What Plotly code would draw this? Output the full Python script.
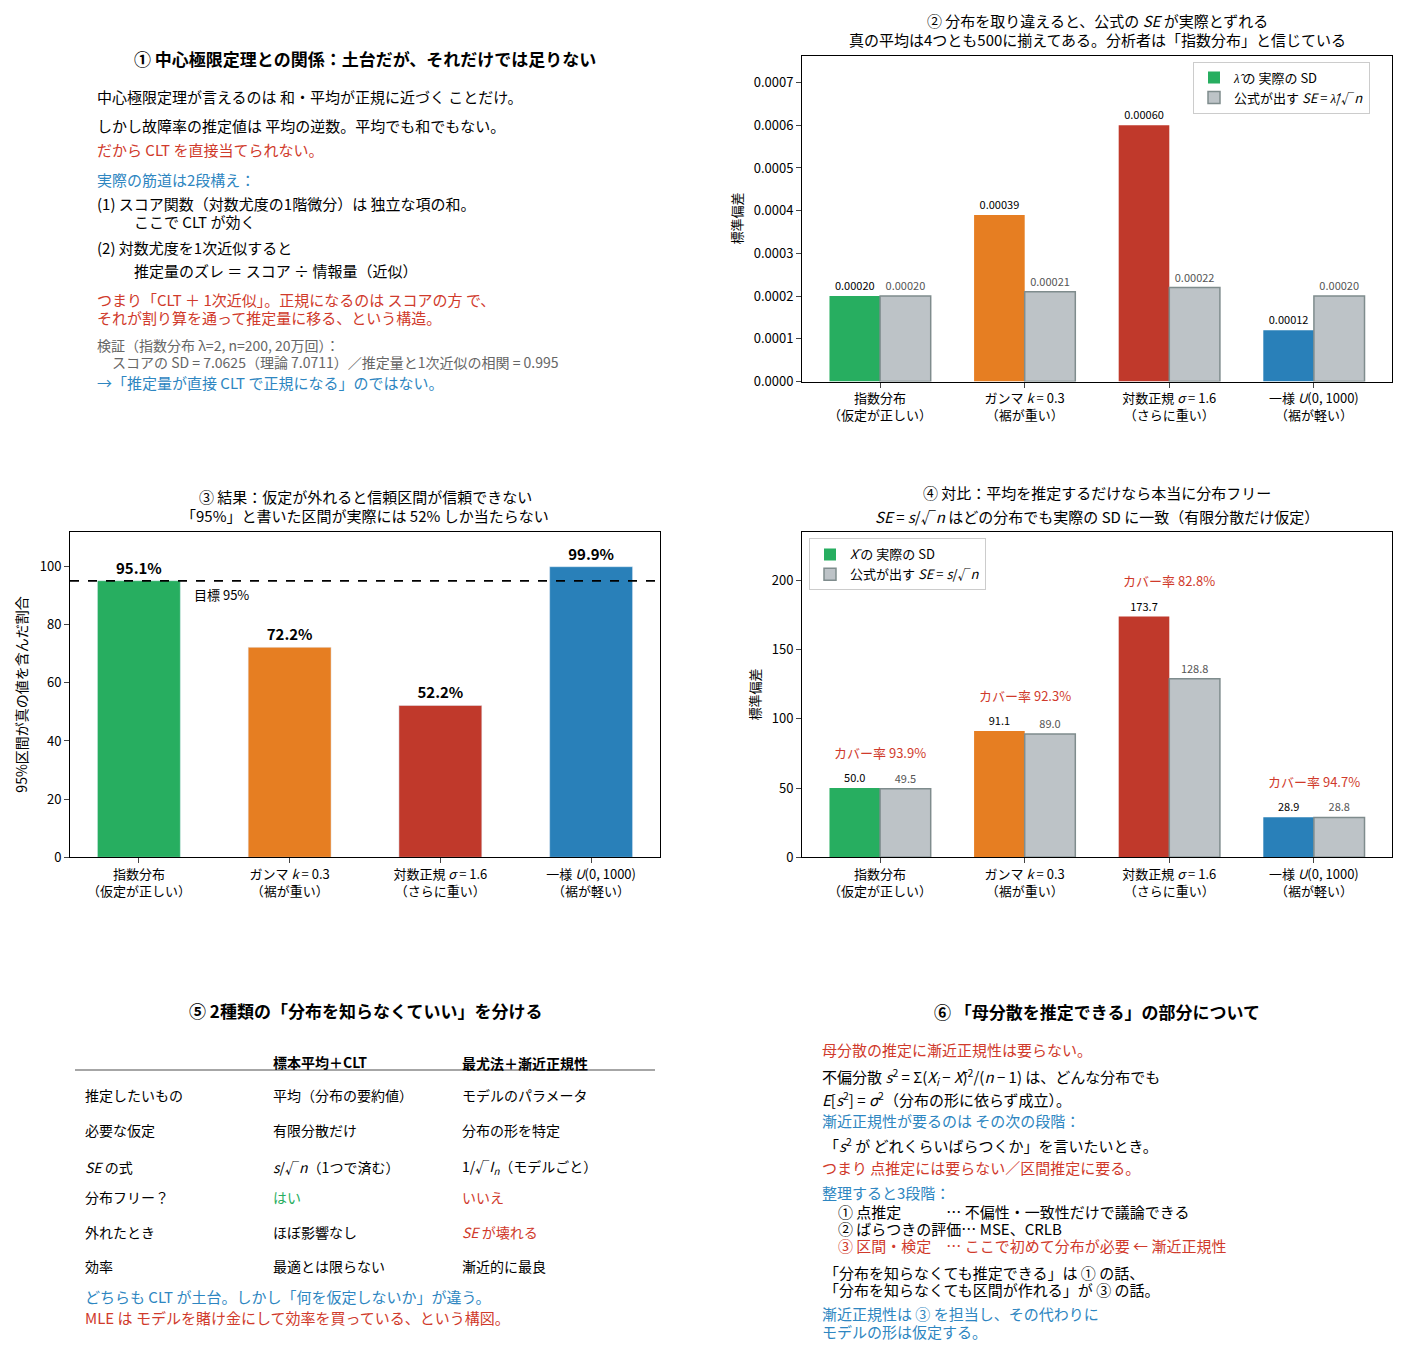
import plotly.graph_objects as go

W, H = 1402, 1360
FONT = "Noto Sans CJK JP"
GREEN, ORANGE, RED, BLUE = "#27ae60", "#e67e22", "#c0392b", "#2980b9"
GREY, EDGE = "#bdc3c7", "#7f8c8d"
TXT_BLUE = "#2e86c1"
TXT_RED = "#d03a2b"

categories = ["指数分布<br>（仮定が正しい）", "ガンマ <i>k</i> = 0.3<br>（裾が重い）",
              "対数正規 <i>σ</i> = 1.6<br>（さらに重い）", "一様 <i>U</i>(0, 1000)<br>（裾が軽い）"]
colors = [GREEN, ORANGE, RED, BLUE]

# panel 2
lam_sd_actual = [0.00020, 0.00039, 0.00060, 0.00012]
lam_se_formula = [0.00020, 0.00021, 0.00022, 0.00020]
# panel 3
coverage_mle = [95.1, 72.2, 52.2, 99.9]
# panel 4
mean_sd_actual = [50.0, 91.1, 173.7, 28.9]
mean_se_formula = [49.5, 89.0, 128.8, 28.8]
coverage_mean = [93.9, 92.3, 82.8, 94.7]

OFF = 8
def px(x): return (x - OFF) / W
def py(y): return 1 - (y - OFF) / H

fig = go.Figure()
xs = [0, 1, 2, 3]

fig.add_trace(go.Bar(x=xs, y=lam_sd_actual, width=0.35, offset=-0.35, marker_color=colors,
                     marker_line_width=0, name="<i>λ̂</i> の 実際の SD", legend="legend",
                     text=[f"{v:.5f}" for v in lam_sd_actual], textposition="outside",
                     textfont=dict(size=11, color="black"), cliponaxis=False,
                     xaxis="x", yaxis="y"))
fig.add_trace(go.Bar(x=xs, y=lam_se_formula, width=0.35, offset=0, marker_color=GREY,
                     marker_line=dict(color=EDGE, width=1.5), name="公式が出す <i>SE</i> = <i>λ̂</i>/√<i>n</i>",
                     legend="legend", text=[f"{v:.5f}" for v in lam_se_formula], textposition="outside",
                     textfont=dict(size=11, color="#555"), cliponaxis=False, xaxis="x", yaxis="y"))
fig.add_trace(go.Bar(x=xs, y=coverage_mle, width=0.55, marker_color=colors, showlegend=False,
                     text=[f"<b>{v:.1f}%</b>" for v in coverage_mle], textposition="outside",
                     textfont=dict(size=15, color="black"), cliponaxis=False, xaxis="x2", yaxis="y2"))
fig.add_trace(go.Bar(x=xs, y=mean_sd_actual, width=0.35, offset=-0.35, marker_color=colors,
                     marker_line_width=0, name="<i>X̄</i> の 実際の SD", legend="legend2",
                     text=[f"{v:.1f}" for v in mean_sd_actual], textposition="outside",
                     textfont=dict(size=11, color="black"), cliponaxis=False, xaxis="x3", yaxis="y3"))
fig.add_trace(go.Bar(x=xs, y=mean_se_formula, width=0.35, offset=0, marker_color=GREY,
                     marker_line=dict(color=EDGE, width=1.5), name="公式が出す <i>SE</i> = <i>s</i>/√<i>n</i>",
                     legend="legend2", text=[f"{v:.1f}" for v in mean_se_formula], textposition="outside",
                     textfont=dict(size=11, color="#555"), cliponaxis=False, xaxis="x3", yaxis="y3"))

ax = dict(showline=True, linecolor="black", linewidth=1, mirror=True, ticks="outside",
          showgrid=False, zeroline=False, tickfont=dict(size=13, color="black"))
xax = dict(ax, tickvals=xs, ticktext=categories, range=[-0.54, 3.54])

annots = []
def T(x, y, s, color="black", size=15, anchor="left", bold=False):
    if bold: s = f"<b>{s}</b>"
    annots.append(dict(x=px(x), y=py(y), xref="paper", yref="paper", text=s, showarrow=False,
                       xanchor=anchor, yanchor="middle", font=dict(size=size, color=color, family=FONT)))

for i in xs:
    annots.append(dict(x=i, y=max(mean_sd_actual[i], mean_se_formula[i]), xref="x3", yref="y3",
                       text=f"カバー率 {coverage_mean[i]:.1f}%", showarrow=False, yshift=36,
                       font=dict(size=13, color=TXT_RED, family=FONT)))
annots.append(dict(x=0.35, y=95, xref="x2", yref="y2", text="目標 95%", showarrow=False,
                   xanchor="left", yanchor="top", yshift=-2, font=dict(size=13, color="black", family=FONT)))

# Panel 1
T(365, 59, "① 中心極限定理との関係：土台だが、それだけでは足りない", size=17, anchor="center", bold=True)
T(95, 97, "中心極限定理が言えるのは 和・平均が正規に近づく ことだけ。")
T(95, 126, "しかし故障率の推定値は 平均の逆数。平均でも和でもない。")
T(95, 150, "だから CLT を直接当てられない。", TXT_RED)
T(95, 181, "実際の筋道は2段構え：", TXT_BLUE)
T(95, 205, "(1) スコア関数（対数尤度の1階微分）は 独立な項の和。")
T(132, 223, "ここで CLT が効く")
T(95, 249, "(2) 対数尤度を1次近似すると")
T(132, 272, "推定量のズレ ＝ スコア ÷ 情報量（近似）")
T(95, 301, "つまり「CLT ＋ 1次近似」。正規になるのは スコアの方 で、", TXT_RED)
T(95, 320, "それが割り算を通って推定量に移る、という構造。", TXT_RED)
T(95, 347, "検証（指数分布 λ=2, n=200, 20万回）：", "#666", 14)
T(110, 364, "スコアの SD = 7.0625（理論 7.0711）／推定量と1次近似の相関 = 0.995", "#666", 14)
T(95, 385, "→「推定量が直接 CLT で正規になる」のではない。", TXT_BLUE)

T(1097, 21, "② 分布を取り違えると、公式の <i>SE</i> が実際とずれる", anchor="center")
T(1097, 40, "真の平均は4つとも500に揃えてある。分析者は「指数分布」と信じている", anchor="center")
T(365, 500, "③ 結果：仮定が外れると信頼区間が信頼できない", anchor="center")
T(365, 519, "「95%」と書いた区間が実際には 52% しか当たらない", anchor="center")
T(1097, 496, "④ 対比：平均を推定するだけなら本当に分布フリー", anchor="center")
T(1097, 520, "<i>SE</i> = <i>s</i>/√<i>n</i> はどの分布でも実際の SD に一致（有限分散だけ仮定）", anchor="center")

# Panel 5
T(365, 1017, "⑤ 2種類の「分布を知らなくていい」を分ける", size=17, anchor="center", bold=True)
cx = [83, 271, 460]
T(cx[1], 1069, "標本平均＋CLT", size=14, bold=True)
T(cx[2], 1070, "最尤法＋漸近正規性", size=14, bold=True)
rows = [
    (1102, "推定したいもの", "平均（分布の要約値）", "モデルのパラメータ", "black", "black"),
    (1137, "必要な仮定", "有限分散だけ", "分布の形を特定", "black", "black"),
    (1175, "<i>SE</i> の式", "<i>s</i>/√<i>n</i>（1つで済む）", "1/√<i>I<sub>n</sub></i>（モデルごと）", "black", "black"),
    (1205, "分布フリー？", "はい", "いいえ", GREEN, TXT_RED),
    (1240, "外れたとき", "ほぼ影響なし", "<i>SE</i> が壊れる", "black", TXT_RED),
    (1274, "効率", "最適とは限らない", "漸近的に最良", "black", "black"),
]
for y, a, b, c, cb, cc in rows:
    T(cx[0], y, a, size=14); T(cx[1], y, b, cb, 14); T(cx[2], y, c, cc, 14)
T(83, 1305, "どちらも CLT が土台。しかし「何を仮定しないか」が違う。", TXT_BLUE)
T(83, 1326, "MLE は モデルを賭け金にして効率を買っている、という構図。", TXT_RED)

# Panel 6
T(1097, 1018, "⑥ 「母分散を推定できる」の部分について", size=17, anchor="center", bold=True)
T(820, 1056, "母分散の推定に漸近正規性は要らない。", TXT_RED)
T(820, 1084, "不偏分散 <i>s</i><sup>2</sup> = Σ(<i>X<sub>i</sub></i> − <i>X̄</i>)<sup>2</sup>/(<i>n</i> − 1) は、どんな分布でも")
T(820, 1106, "<i>E</i>[<i>s</i><sup>2</sup>] = <i>σ</i><sup>2</sup>（分布の形に依らず成立）。")
T(820, 1128, "漸近正規性が要るのは その次の段階：", TXT_BLUE)
T(822, 1153, "「<i>s</i><sup>2</sup> が どれくらいばらつくか」を言いたいとき。")
T(820, 1175, "つまり 点推定には要らない／区間推定に要る。", TXT_RED)
T(820, 1200, "整理すると3段階：", TXT_BLUE)
T(836, 1220, "① 点推定　　　… 不偏性・一致性だけで議論できる")
T(836, 1237, "② ばらつきの評価… MSE、CRLB")
T(836, 1254, "③ 区間・検定　… ここで初めて分布が必要 ← 漸近正規性", TXT_RED)
T(822, 1281, "「分布を知らなくても推定できる」は ① の話、")
T(822, 1298, "「分布を知らなくても区間が作れる」が ③ の話。")
T(820, 1322, "漸近正規性は ③ を担当し、その代わりに", TXT_BLUE)
T(820, 1340, "モデルの形は仮定する。", TXT_BLUE)

shapes = [
    dict(type="line", xref="paper", yref="paper", x0=px(75), x1=px(655), y0=py(1077), y1=py(1077),
         line=dict(color="#888", width=1.5)),
    dict(type="line", xref="x2 domain", yref="y2", x0=0, x1=1, y0=95, y1=95,
         line=dict(color="black", width=1.8, dash="dash")),
]

legend_style = dict(bgcolor="white", bordercolor="#ccc", borderwidth=1,
                    font=dict(size=13, family=FONT), xanchor="left", yanchor="top", tracegroupgap=4)

fig.update_layout(
    width=W, height=H, margin=dict(l=0, r=0, t=0, b=0), paper_bgcolor="white", plot_bgcolor="white",
    font=dict(family=FONT, color="black"), barmode="overlay",
    annotations=annots, shapes=shapes,
    xaxis=dict(xax, domain=[px(802), px(1392)], anchor="y"),
    yaxis=dict(ax, domain=[py(384), py(56)], range=[0, 0.000763], dtick=0.0001, tickformat=".4f",
               anchor="x", title=dict(text="標準偏差", font=dict(size=13), standoff=8)),
    xaxis2=dict(xax, domain=[px(70), px(660)], anchor="y2", range=[-0.457, 3.457]),
    yaxis2=dict(ax, domain=[py(863), py(535)], range=[0, 112], dtick=20, anchor="x2",
                title=dict(text="95%区間が真の値を含んだ割合", font=dict(size=14), standoff=8)),
    xaxis3=dict(xax, domain=[px(802), px(1392)], anchor="y3"),
    yaxis3=dict(ax, domain=[py(863), py(535)], range=[0, 235], dtick=50, anchor="x3",
                title=dict(text="標準偏差", font=dict(size=13), standoff=8)),
    legend=dict(legend_style, x=px(1193), y=py(62)),
    legend2=dict(legend_style, x=px(809), y=py(542)),
)

fig.write_html("out.html")
